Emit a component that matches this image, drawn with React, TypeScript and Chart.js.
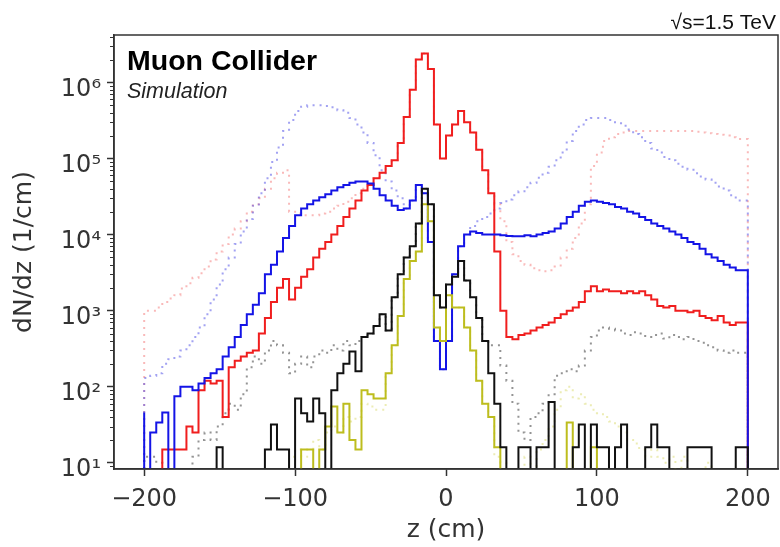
import React, { useEffect, useRef } from 'react';
import { Chart, registerables } from 'chart.js';

Chart.register(...registerables);

// ---- binning (categories) ----
const Z_MIN = -200;
const BIN_WIDTH = 4; // cm, 100 bins from -200 to 200
const X_TICKS = [-200, -100, 0, 100, 200];
const Y_TICKS = [1e1, 1e2, 1e3, 1e4, 1e5, 1e6];
const X_RANGE = [-220, 220];
const Y_RANGE = [8.3, 4.2e6];

// ---- solid histograms (dN/dz, 1/cm), one value per 4 cm bin ----
const redSolid = [
  0, 0, 0, 0, 15, 15, 15, 15, 30, 25,
  90, 120, 110, 120, 40, 180, 220, 250, 280, 300,
  500, 800, 1300, 2000, 2600, 1400, 2000, 2800, 3500, 5000,
  6500, 8000, 10000, 13000, 17000, 22000, 28000, 38000, 45000, 55000,
  65000, 80000, 95000, 160000, 350000, 800000, 2000000, 2400000, 1500000, 280000,
  100000, 200000, 280000, 420000, 300000, 220000, 130000, 70000, 35000, 6000,
  1000, 450, 420, 480, 500, 550, 600, 650, 700, 800,
  900, 1000, 1100, 1300, 1800, 2100, 1800, 1900, 1800, 1800,
  1700, 1800, 1700, 1800, 1600, 1400, 1150, 1100, 1150, 1000,
  1000, 950, 1000, 850, 800, 750, 850, 700, 650, 700,
];

const blueSolid = [
  46, 0, 25, 34, 46, 0, 75, 100, 100, 90,
  110, 130, 150, 170, 250, 330, 450, 650, 900, 1200,
  1700, 3000, 4000, 6000, 9000, 13000, 18000, 22000, 25000, 28000,
  31000, 34000, 38000, 42000, 45000, 48000, 50000, 50000, 47000, 40000,
  33000, 28000, 24000, 21000, 22000, 28000, 45000, 35000, 8000, 400,
  170, 400, 3000, 7000, 10000, 11000, 10500, 10000, 10000, 10000,
  9800, 9600, 9500, 9500, 9800, 9500, 10000, 10500, 11000, 12000,
  14000, 17000, 20000, 24000, 27000, 28000, 27000, 26000, 25000, 23000,
  22000, 20000, 19000, 17000, 15500, 14000, 13000, 12000, 11000, 10000,
  9000, 8000, 7500, 6500, 5500, 5000, 4500, 4000, 3700, 3400,
];

const blackSolid = [
  0, 0, 0, 0, 0, 0, 0, 0, 0, 0,
  0, 0, 0, 16, 0, 0, 0, 0, 0, 0,
  0, 15, 32, 15, 15, 0, 70, 45, 35, 70,
  45, 0, 90, 150, 200, 290, 160, 450, 500, 630,
  900, 550, 1500, 3000, 5000, 7000, 14000, 40000, 25000, 1600,
  1100, 2200, 2800, 4500, 2500, 1500, 800, 400, 150, 60,
  16, 0, 0, 16, 16, 0, 16, 16, 63, 0,
  0, 0, 16, 32, 0, 32, 16, 16, 0, 16,
  32, 0, 0, 0, 16, 32, 16, 16, 0, 0,
  0, 16, 16, 16, 16, 0, 0, 0, 0, 16,
];

const yellowSolid = [
  0, 0, 0, 0, 0, 0, 0, 0, 0, 0,
  0, 0, 0, 0, 0, 0, 0, 0, 0, 0,
  0, 0, 0, 0, 0, 0, 0, 15, 15, 0,
  15, 30, 55, 25, 60, 20, 15, 90, 80, 70,
  70, 150, 350, 850, 2600, 4500, 6000, 25000, 15000, 600,
  400, 1600, 1100, 1100, 600, 300, 120, 60, 40, 16,
  0, 0, 0, 0, 0, 0, 0, 0, 0, 0,
  0, 34, 0, 0, 0, 16, 0, 0, 0, 0,
  0, 0, 0, 0, 0, 0, 0, 0, 0, 0,
  0, 0, 0, 0, 0, 0, 0, 0, 0, 0,
];

// ---- dotted histograms (coincide with the solid ones in the central region) ----
const redDotted = [
  500, 1000, 1000, 1100, 1300, 1450, 1600, 1950, 2300, 2700,
  3100, 3800, 4700, 6000, 7500, 10000, 12000, 15000, 20000, 25000,
  30000, 40000, 55000, 65000, 70000, 20000, 19000, 18000, 18000, 18000,
  19000, 20000, 22000, 24000, 27000, 30000, 35000, 40000, 45000, 55000,
  65000, 80000, 95000, 160000, 350000, 800000, 2000000, 2400000, 1500000, 280000,
  100000, 200000, 280000, 420000, 300000, 220000, 130000, 70000, 35000, 25000,
  15000, 8000, 5500, 4500, 4000, 3600, 3400, 3300, 3400, 3800,
  5000, 6500, 9000, 14000, 25000, 80000, 120000, 170000, 190000, 210000,
  220000, 230000, 230000, 230000, 230000, 230000, 230000, 230000, 230000, 230000,
  230000, 230000, 225000, 220000, 215000, 210000, 205000, 200000, 190000, 180000,
];

const blueDotted = [
  130, 130, 140, 150, 200, 230, 250, 300, 350, 450,
  600, 900, 1400, 2200, 3500, 5000, 7500, 11000, 16000, 24000,
  35000, 55000, 90000, 140000, 230000, 320000, 420000, 480000, 500000, 500000,
  500000, 490000, 470000, 430000, 400000, 340000, 280000, 220000, 160000, 110000,
  70000, 50000, 38000, 30000, 22000, 28000, 45000, 35000, 8000, 400,
  170, 400, 3000, 7000, 10000, 13000, 15000, 17000, 19000, 22000,
  26000, 29000, 33000, 37000, 42000, 48000, 56000, 65000, 78000, 95000,
  120000, 170000, 230000, 280000, 320000, 340000, 340000, 340000, 320000, 290000,
  270000, 240000, 210000, 190000, 160000, 135000, 120000, 105000, 95000, 85000,
  78000, 71000, 64000, 58000, 53000, 48000, 43000, 38000, 33000, 28000,
];

const blackDotted = [
  0, 12, 12, 10, 0, 0, 0, 0, 0, 12,
  20, 25, 20, 30, 45, 60, 50, 80, 180, 250,
  200, 300, 400, 350, 280, 150, 200, 250, 180, 250,
  300, 280, 350, 300, 400, 350, 400, 450, 500, 630,
  900, 550, 1500, 3000, 5000, 7000, 14000, 40000, 25000, 1600,
  1100, 2200, 2800, 4500, 2500, 1500, 800, 400, 350, 350,
  190, 120, 60, 25, 20, 40, 45, 60, 80, 140,
  150, 170, 160, 190, 300, 450, 550, 600, 580, 550,
  500, 480, 520, 500, 450, 480, 500, 430, 480, 450,
  420, 450, 400, 380, 350, 330, 300, 280, 300, 280,
];

const yellowDotted = [
  0, 0, 0, 0, 0, 0, 0, 0, 0, 0,
  0, 0, 0, 0, 0, 0, 0, 0, 0, 0,
  0, 0, 0, 0, 0, 12, 15, 12, 15, 20,
  15, 25, 30, 25, 40, 35, 40, 60, 55, 50,
  50, 150, 350, 850, 2600, 4500, 6000, 25000, 15000, 600,
  400, 1600, 1100, 1100, 600, 300, 120, 60, 40, 12,
  10, 0, 0, 0, 12, 0, 15, 20, 30, 50,
  90, 100, 70, 80, 60, 50, 45, 40, 35, 30,
  25, 20, 18, 15, 12, 15, 12, 10, 12, 0,
  12, 0, 0, 0, 10, 0, 0, 0, 0, 0,
];

const SUPERSCRIPTS: Record<string, string> = {
  '0': '⁰', '1': '¹', '2': '²', '3': '³', '4': '⁴', '5': '⁵', '6': '⁶', '7': '⁷', '8': '⁸', '9': '⁹',
};

const FLOOR = 1; // empty bins fall below the axis

function histPoints(values: number[]) {
  const pts: { x: number; y: number }[] = [{ x: Z_MIN, y: FLOOR }];
  values.forEach((v, i) => pts.push({ x: Z_MIN + i * BIN_WIDTH, y: v > 0 ? v : FLOOR }));
  const end = Z_MIN + values.length * BIN_WIDTH;
  const last = values[values.length - 1];
  pts.push({ x: end, y: last > 0 ? last : FLOOR });
  pts.push({ x: end, y: FLOOR });
  return pts;
}

const TICK_COLOR = '#333333';

const framePlugin = {
  id: 'frameAndText',
  afterDraw(chart: any) {
    const { ctx, chartArea } = chart;
    const yScale = chart.scales.y;
    ctx.save();
    // frame
    ctx.strokeStyle = TICK_COLOR;
    ctx.lineWidth = 1.5;
    ctx.strokeRect(chartArea.left, chartArea.top, chartArea.right - chartArea.left, chartArea.bottom - chartArea.top);
    // minor log ticks
    ctx.lineWidth = 1;
    for (let e = 0; e < 8; e++) {
      for (let m = 2; m <= 9; m++) {
        const v = m * Math.pow(10, e);
        if (v < yScale.min || v > yScale.max) continue;
        const y = Math.round(yScale.getPixelForValue(v)) + 0.5;
        ctx.beginPath();
        ctx.moveTo(chartArea.left - 4, y);
        ctx.lineTo(chartArea.left, y);
        ctx.stroke();
      }
    }
    // annotations
    ctx.fillStyle = '#000';
    ctx.textBaseline = 'alphabetic';
    ctx.textAlign = 'left';
    ctx.font = 'bold 28.5px "Liberation Sans", Arial, sans-serif';
    ctx.fillText('Muon Collider', 127, 70);
    ctx.fillStyle = '#222';
    ctx.font = 'italic 21.5px "Liberation Sans", Arial, sans-serif';
    ctx.fillText('Simulation', 127, 98);
    ctx.fillStyle = '#111';
    ctx.textAlign = 'right';
    ctx.font = '21px "Liberation Sans", Arial, sans-serif';
    ctx.fillText('√s=1.5 TeV', 776, 29);
    ctx.restore();
  },
};

export default function App() {
  const canvasRef = useRef<HTMLCanvasElement | null>(null);

  useEffect(() => {
    const canvas = canvasRef.current;
    if (!canvas) return;

    const solid = (values: number[], color: string, order: number) => ({
      data: histPoints(values),
      borderColor: color,
      borderWidth: 2,
      stepped: 'after' as const,
      pointRadius: 0,
      fill: false,
      order,
    });
    const dotted = (values: number[], color: string, order: number) => ({
      data: histPoints(values),
      borderColor: color,
      borderWidth: 2,
      borderDash: [2, 5],
      stepped: 'after' as const,
      pointRadius: 0,
      fill: false,
      order,
    });

    const chart = new Chart(canvas, {
      type: 'line',
      data: {
        datasets: [
          solid(blackSolid, '#111111', 1),
          solid(yellowSolid, '#bdbd1e', 2),
          solid(blueSolid, '#1414e6', 3),
          solid(redSolid, '#f01e1e', 4),
          dotted(blackDotted, 'rgba(60,60,60,0.55)', 5),
          dotted(yellowDotted, 'rgba(200,200,40,0.35)', 6),
          dotted(blueDotted, 'rgba(70,70,230,0.5)', 7),
          dotted(redDotted, 'rgba(240,80,80,0.4)', 8),
        ] as any,
      },
      options: {
        animation: false,
        responsive: false,
        devicePixelRatio: 1,
        layout: { padding: { left: 0, right: 2, top: 35, bottom: 0 } },
        plugins: { legend: { display: false }, tooltip: { enabled: false } },
        elements: { point: { radius: 0 }, line: { tension: 0 } },
        scales: {
          x: {
            type: 'linear',
            min: X_RANGE[0],
            max: X_RANGE[1],
            afterBuildTicks: (scale: any) => {
              scale.ticks = X_TICKS.map((v) => ({ value: v }));
            },
            afterFit: (scale: any) => {
              scale.height = 78;
            },
            ticks: {
              autoSkip: false,
              maxRotation: 0,
              padding: 9,
              color: TICK_COLOR,
              font: { family: '"DejaVu Sans", sans-serif', size: 24 },
              callback: (v: any) => (Number(v) < 0 ? '\u2212' + Math.abs(Number(v)) : String(v)),
            },
            grid: { drawOnChartArea: false, drawTicks: true, tickLength: 7, tickWidth: 1.5, tickColor: TICK_COLOR },
            border: { display: true, color: TICK_COLOR, width: 1.5 },
            title: {
              display: true,
              text: 'z (cm)',
              color: TICK_COLOR,
              font: { family: '"DejaVu Sans", sans-serif', size: 25 },
              padding: { top: 0, bottom: 2 },
            },
          },
          y: {
            type: 'logarithmic',
            min: Y_RANGE[0],
            max: Y_RANGE[1],
            afterBuildTicks: (scale: any) => {
              scale.ticks = Y_TICKS.map((v) => ({ value: v }));
            },
            afterFit: (scale: any) => {
              scale.width = 114;
            },
            ticks: {
              autoSkip: false,
              padding: 6,
              labelOffset: 7,
              color: TICK_COLOR,
              font: { family: '"DejaVu Sans", sans-serif', size: 24 },
              callback: (v: any) => {
                const e = String(Math.round(Math.log10(Number(v))));
                return '10' + e.split('').map((c) => SUPERSCRIPTS[c] || c).join('');
              },
            },
            grid: { drawOnChartArea: false, drawTicks: true, tickLength: 7, tickWidth: 1.5, tickColor: TICK_COLOR },
            border: { display: true, color: TICK_COLOR, width: 1.5 },
            title: {
              display: true,
              text: 'dN/dz (1/cm)',
              color: TICK_COLOR,
              font: { family: '"DejaVu Sans", sans-serif', size: 25 },
              padding: { top: 9, bottom: 0 },
            },
          },
        },
      } as any,
      plugins: [framePlugin],
    });

    return () => chart.destroy();
  }, []);

  return (
    <div style={{ position: 'fixed', left: 0, top: 0, width: 780, height: 547, background: '#ffffff' }}>
      <canvas ref={canvasRef} width={780} height={547} style={{ display: 'block' }} />
    </div>
  );
}
